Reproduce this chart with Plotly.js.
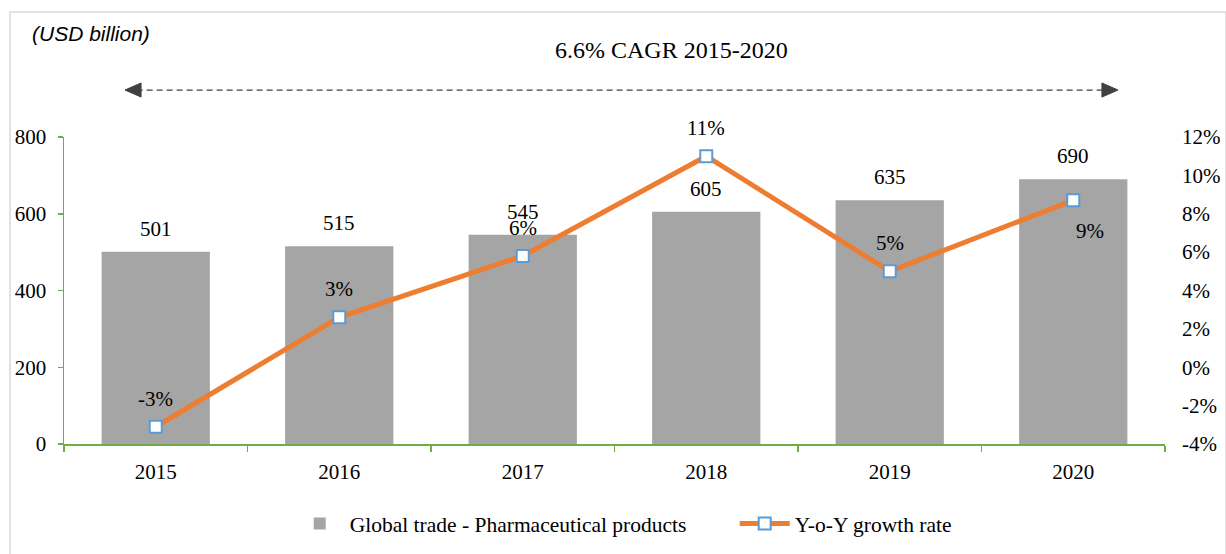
<!DOCTYPE html>
<html>
<head>
<meta charset="utf-8">
<script src="https://cdn.plot.ly/plotly-3.0.1.min.js"></script>
<style>
  html, body { margin: 0; padding: 0; background: #fff; }
  #chart { width: 1226px; height: 554px; }
</style>
</head>
<body>
<div id="chart"></div>
<script>
// chart data
const years = ['2015', '2016', '2017', '2018', '2019', '2020'];
const tradeValues = [501, 515, 545, 605, 635, 690];
const growthRates = [-0.031, 0.026, 0.058, 0.110, 0.050, 0.087];
const growthLabels = ['-3%', '3%', '6%', '11%', '5%', '9%'];
const leftTickVals = [0, 200, 400, 600, 800];
const rightTickVals = [-0.04, -0.02, 0, 0.02, 0.04, 0.06, 0.08, 0.10, 0.12];
const rightTickText = ['-4%', '-2%', '0%', '2%', '4%', '6%', '8%', '10%', '12%'];

const serif = 'Liberation Serif, Times New Roman, serif';
const green = '#70AD47';
const fontSize = 21;

const barTrace = {
    type: 'bar',
    name: 'Global trade - Pharmaceutical products',
    x: years,
    y: tradeValues,
    marker: { color: '#A5A5A5' },
    hoverinfo: 'x+y'
};

const lineTrace = {
    type: 'scatter',
    mode: 'lines+markers',
    name: 'Y-o-Y growth rate',
    x: years,
    y: growthRates,
    yaxis: 'y2',
    line: { color: '#ED7D31', width: 5 },
    marker: { symbol: 'square', size: 12, color: '#FFFFFF', line: { color: '#5B9BD5', width: 2 } }
};

// value labels above the bars (x given as category index)
const barLabels = years.map((yr, i) => ({
    x: i, y: tradeValues[i], xref: 'x', yref: 'y',
    text: String(tradeValues[i]), showarrow: false,
    yanchor: 'middle', yshift: 23,
    font: { family: serif, size: fontSize, color: '#000' }
}));

// growth labels near the markers (last one sits below-right)
const rateLabels = years.map((yr, i) => {
    const last = i === years.length - 1;
    return {
        x: i, y: growthRates[i], xref: 'x', yref: 'y2',
        text: growthLabels[i], showarrow: false,
        yanchor: 'middle',
        xshift: last ? 17 : 0,
        yshift: last ? -31 : 28,
        font: { family: serif, size: fontSize, color: '#000' }
    };
});

const textNotes = [
    {
        xref: 'paper', yref: 'paper', x: -0.031, y: 1.338,
        xanchor: 'left', yanchor: 'middle', showarrow: false,
        text: '<i>(USD billion)</i>',
        font: { family: 'Liberation Sans, Arial, sans-serif', size: fontSize, color: '#000' }
    },
    {
        xref: 'paper', yref: 'paper', x: 0.5518, y: 1.283,
        xanchor: 'center', yanchor: 'middle', showarrow: false,
        text: '6.6% CAGR 2015-2020',
        font: { family: serif, size: 24, color: '#000' }
    }
];

const arrowColor = '#404040';
const shapes = [
    // outer frame
    { type: 'rect', xref: 'paper', yref: 'paper', x0: -0.0490, x1: 1.0554, y0: -0.40, y1: 1.407,
      line: { color: '#D9D9D9', width: 1.5 }, fillcolor: 'rgba(0,0,0,0)', layer: 'below' },
    // dashed CAGR arrow
    { type: 'line', xref: 'paper', yref: 'paper', x0: 0.066, x1: 0.947, y0: 1.153, y1: 1.153,
      line: { color: arrowColor, width: 1.3, dash: '6px,4px' } },
    { type: 'path', xref: 'paper', yref: 'paper',
      path: 'M 0.0554 1.153 L 0.0700 1.176 L 0.0700 1.130 Z',
      fillcolor: arrowColor, line: { color: arrowColor, width: 1 } },
    { type: 'path', xref: 'paper', yref: 'paper',
      path: 'M 0.9573 1.153 L 0.9427 1.176 L 0.9427 1.130 Z',
      fillcolor: arrowColor, line: { color: arrowColor, width: 1 } }
];

const layout = {
    width: 1226,
    height: 554,
    margin: { l: 64, r: 61, t: 137, b: 110, autoexpand: false },
    paper_bgcolor: '#FFFFFF',
    plot_bgcolor: '#FFFFFF',
    font: { family: serif, size: fontSize, color: '#000' },
    bargap: 0.41,
    showlegend: true,
    legend: {
        orientation: 'h', x: 0.205, xanchor: 'left', y: -0.192, yanchor: 'top',
        font: { family: serif, size: 21.5, color: '#000' },
        itemwidth: 50,
        entrywidth: 380
    },
    xaxis: {
        type: 'category',
        range: [-0.5, years.length - 0.5], autorange: false,
        showline: true, linecolor: green, linewidth: 1.5,
        ticks: 'outside', tickson: 'boundaries', ticklen: 6, tickcolor: green, tickwidth: 1.5,
        ticklabelstandoff: 8,
        showgrid: false, zeroline: false,
        tickangle: 0,
        tickfont: { family: serif, size: fontSize, color: '#000' }
    },
    yaxis: {
        range: [0, 800], tickvals: leftTickVals,
        showline: true, linecolor: green, linewidth: 1.5,
        ticks: 'outside', ticklen: 5, tickcolor: green, tickwidth: 1.5,
        ticklabelstandoff: 7,
        showgrid: false, zeroline: false,
        tickfont: { family: serif, size: fontSize, color: '#000' }
    },
    yaxis2: {
        overlaying: 'y', side: 'right',
        range: [-0.04, 0.12], tickvals: rightTickVals, ticktext: rightTickText,
        showline: false, ticks: '', showgrid: false, zeroline: false,
        ticklabelstandoff: 16,
        tickfont: { family: serif, size: fontSize, color: '#000' }
    },
    annotations: textNotes.concat(barLabels, rateLabels),
    shapes: shapes
};

Plotly.newPlot('chart', [barTrace, lineTrace], layout, { displayModeBar: false, staticPlot: true })
    .catch((error) => {
        console.error('Error rendering plot:', error);
    });
</script>
</body>
</html>
